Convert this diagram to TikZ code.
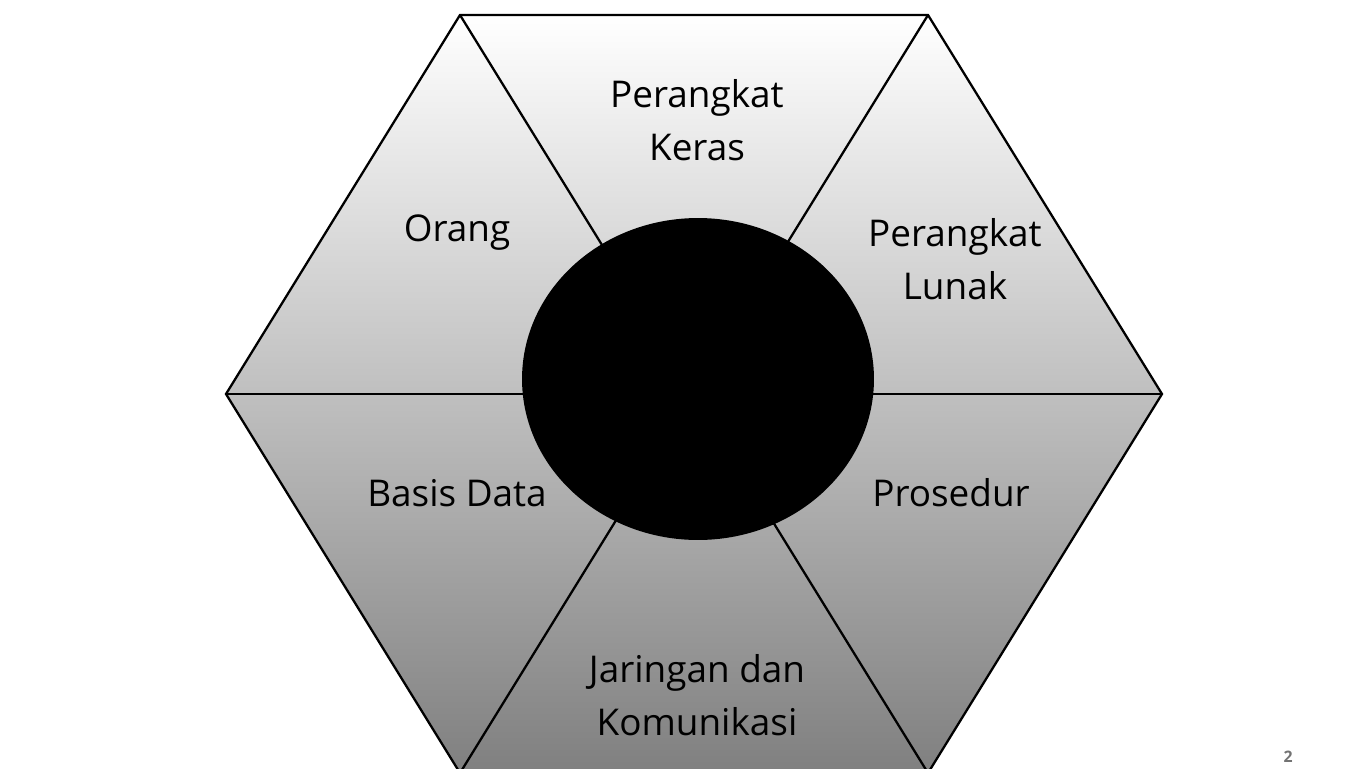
\documentclass[tikz,border=0pt]{standalone}
\usepackage{fontspec}
\setmainfont{Open Sans}
\usetikzlibrary{shapes.geometric, positioning}

\begin{document}
\begin{tikzpicture}[x=0.02cm, y=-0.02cm, thick]

	% Define style for texts
	\tikzstyle{part} = [align=center, text=black,
						font=\fontsize{21}{30}\selectfont]

	% Define style for lines
	\tikzstyle{edge} = [draw, line width=1.3pt, line join=miter]

	\useasboundingbox (0,0) rectangle (1366,768);
	\fill[white] (0,0) rectangle (1366,768);

	% Place corners
	\coordinate (tl) at (460,15);
	\coordinate (tr) at (928,15);
	\coordinate (rr) at (1162,394);
	\coordinate (br) at (928,773);
	\coordinate (bl) at (460,773);
	\coordinate (ll) at (226,394);

	% Draw hexagon
	\path [edge, top color=white, bottom color=black!50]
		(tl) -- (tr) -- (rr) -- (br) -- (bl) -- (ll) -- cycle;
	\path [edge] (tl) -- (br);
	\path [edge] (tr) -- (bl);
	\path [edge] (ll) -- (rr);

	% Place nodes
	\node [ellipse, fill=black, inner sep=0pt,
		minimum width=7.04cm, minimum height=6.44cm] (core) at (698,379) {};
	\node [part] (hardware) at (697,120) {Perangkat\\Keras};
	\node [part] (people) at (457,233) {Orang};
	\node [part] (software) at (955,259) {Perangkat\\Lunak};
	\node [part] (database) at (457,493) {Basis Data};
	\node [part] (procedure) at (951,493) {Prosedur};
	\node [part] (network) at (697,695) {Jaringan dan\\Komunikasi};
	\node [text=black!55, font=\fontsize{9}{9}\selectfont\bfseries] (page) at (1288,757) {2};
\end{tikzpicture}
\end{document}
